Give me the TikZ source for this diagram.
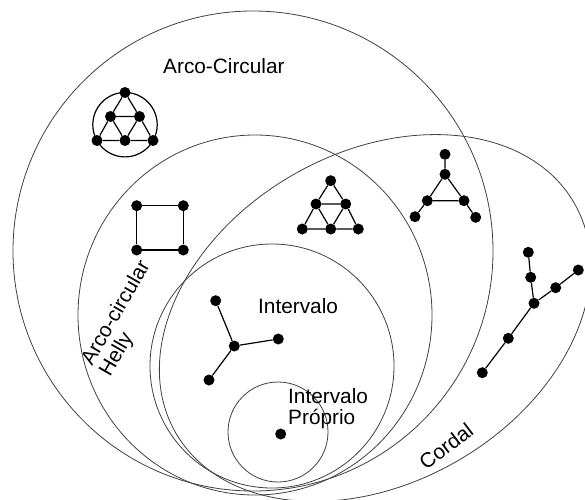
\documentclass[tikz,border=0pt]{standalone}
\usepackage{fontspec}
\setmainfont{Liberation Sans}
\begin{document}
\begin{tikzpicture}[x=1pt,y=-1pt]
\tikzset{
  dot/.style={circle,fill=black,inner sep=0pt,minimum size=11pt},
  edge/.style={line width=1.2pt},
  region/.style={line width=0.8pt,draw=black!75},
  lbl/.style={font=\fontsize{20.8}{24}\selectfont,inner sep=0pt}
}
\useasboundingbox (0,0) rectangle (585,499);
\begin{scope}
\clip (0,0) rectangle (585,499);
% regions
\draw[region] (253,251) circle [radius=240];
\draw[region] (255,315) ellipse [x radius=177, y radius=180];
\draw[region, rotate around={30:(375,318)}] (375,318) ellipse [x radius=230, y radius=165];
\draw[region] (272,366) ellipse [x radius=122, y radius=122];
\draw[region] (278,432) circle [radius=50];
\end{scope}
% labels
\node[lbl,anchor=base west] (arc) at (163,73) {Arco-Circular};
\node[lbl,anchor=base west] (int) at (258,313) {Intervalo};
\node[lbl,anchor=base west] (ip1) at (288,403) {Intervalo};
\node[lbl,anchor=base west] (ip2) at (288,424) {Próprio};
\node[lbl,anchor=base west,rotate=60] (h1) at (92,367) {Arco-circular};
\node[lbl,anchor=base west,rotate=60] (h2) at (110,378) {Helly};
\node[lbl,rotate=37] (cord) at (446,446) {Cordal};
% graph 1: triangle in circle
\draw[edge] (125,124.7) circle [radius=32.2];
\node[dot] (a1) at (125,92.5) {};
\node[dot] (a2) at (110.5,116.5) {};
\node[dot] (a3) at (139.5,116.5) {};
\node[dot] (a4) at (97,140.5) {};
\node[dot] (a5) at (125,140.5) {};
\node[dot] (a6) at (153,140.5) {};
\draw[edge] (a1)--(a2) (a1)--(a3) (a2)--(a3) (a2)--(a4) (a2)--(a5) (a3)--(a5) (a3)--(a6) (a4)--(a5) (a5)--(a6);
% graph 2: triangle
\node[dot] (b1) at (330.7,180.7) {};
\node[dot] (b2) at (316,204) {};
\node[dot] (b3) at (345.7,204) {};
\node[dot] (b4) at (302.3,229) {};
\node[dot] (b5) at (330.7,229) {};
\node[dot] (b6) at (358.3,229) {};
\draw[edge] (b1)--(b2) (b1)--(b3) (b2)--(b3) (b2)--(b4) (b2)--(b5) (b3)--(b5) (b3)--(b6) (b4)--(b5) (b5)--(b6);
% graph 3: square
\node[dot] (c1) at (136.7,205.7) {};
\node[dot] (c2) at (183.3,205.7) {};
\node[dot] (c3) at (136.7,250) {};
\node[dot] (c4) at (183.3,250) {};
\draw[edge] (c1)--(c2) (c2)--(c4) (c4)--(c3) (c3)--(c1);
% graph 4: net
\node[dot] (d1) at (445,154.3) {};
\node[dot] (d2) at (445,174.3) {};
\node[dot] (d3) at (427.3,200.7) {};
\node[dot] (d4) at (464,200.7) {};
\node[dot] (d5) at (415,216.7) {};
\node[dot] (d6) at (475.7,217.3) {};
\draw[edge] (d1)--(d2) (d2)--(d3) (d2)--(d4) (d3)--(d4) (d3)--(d5) (d4)--(d6);
% graph 5: tree in cordal
\node[dot] (e1) at (528.3,252.3) {};
\node[dot] (e2) at (530.7,277.3) {};
\node[dot] (e3) at (534,303.3) {};
\node[dot] (e4) at (555.7,287.7) {};
\node[dot] (e5) at (578.3,270) {};
\node[dot] (e6) at (508.3,338.3) {};
\node[dot] (e7) at (482.3,372.7) {};
\draw[edge] (e1)--(e2) (e2)--(e3) (e3)--(e4) (e4)--(e5) (e3)--(e6) (e6)--(e7);
% graph 6: star in intervalo
\node[dot] (f1) at (215.7,300.7) {};
\node[dot] (f2) at (234.3,346) {};
\node[dot] (f3) at (278.3,339) {};
\node[dot] (f4) at (209,380) {};
\draw[edge] (f2)--(f1) (f2)--(f3) (f2)--(f4);
% proper interval: single vertex
\node[dot] (g1) at (280.7,434) {};
\end{tikzpicture}
\end{document}
